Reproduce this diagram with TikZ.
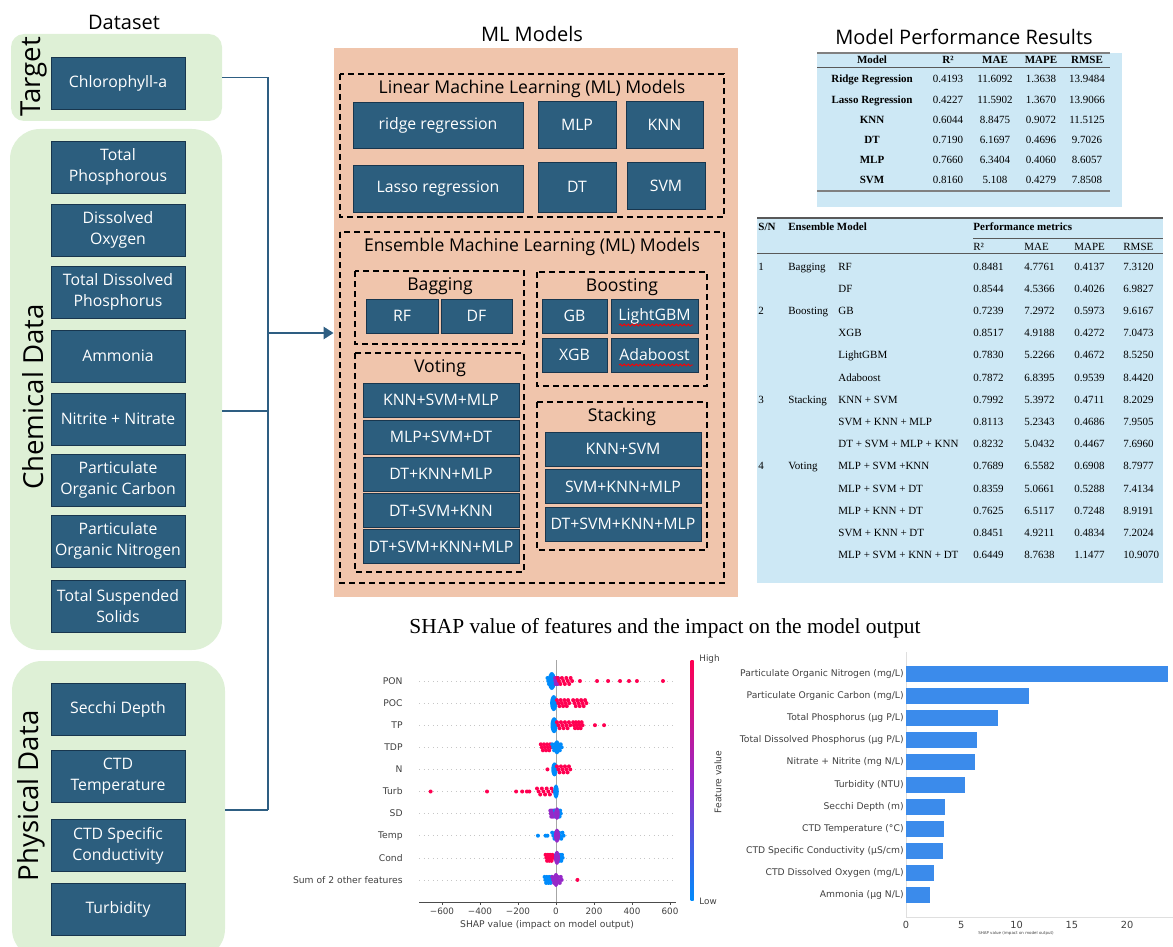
\documentclass[tikz,border=0pt]{standalone}
\usepackage{fontspec}
\setmainfont{Open Sans}
\newfontfamily\tabfont{Liberation Serif}
\newfontfamily\plotfont{DejaVu Sans}
\usetikzlibrary{arrows.meta,positioning,decorations.pathmorphing}

\definecolor{boxblue}{RGB}{44,94,126}
\definecolor{boxedge}{RGB}{24,54,78}
\definecolor{panelgreen}{RGB}{222,240,214}
\definecolor{panelpeach}{RGB}{240,197,172}
\definecolor{tablebg}{RGB}{205,232,245}
\definecolor{linkblue}{RGB}{46,94,130}
\definecolor{shapred}{RGB}{255,0,81}
\definecolor{shapblue}{RGB}{0,139,251}
\definecolor{shappurple}{RGB}{150,40,200}
\definecolor{barblue}{RGB}{59,139,235}

% dots of the beeswarm: row y (px), SHAP value(s), colour
\newcommand{\shapdot}[3]{\fill[#3] ({556+0.19*(#2)},#1) circle (1pt);}
\newcommand{\shapseg}[4]{%
  \foreach \k in {0,...,10}{%
    \fill[#4] ({556+0.19*((#2)+((#3)-(#2))*\k/10)},{#1+3*mod(\k,3)-3}) circle (1pt);}}
\newcommand{\shapblob}[5]{\fill[#5] ({556+0.19*(#2)},#1) ellipse (#3 and #4);}

\begin{document}
\begin{tikzpicture}[
  x=0.5pt, y=-0.5pt,
  panel/.style={fill=panelgreen, inner sep=0pt},
  feat/.style={draw=boxedge, fill=boxblue, text=white, align=center, inner sep=1pt,
    font=\fontsize{7.9pt}{10.5pt}\selectfont, minimum width=67pt, minimum height=26pt},
  mlbox/.style={feat, minimum height=17pt},
  grp/.style={draw, dash pattern=on 3pt off 2pt, line width=0.7pt},
  heading/.style={font=\fontsize{10pt}{12pt}\selectfont},
  subhead/.style={font=\fontsize{8.8pt}{10pt}\selectfont},
  side/.style={rotate=90, font=\fontsize{13.8pt}{16pt}\selectfont},
  trunk/.style={draw=linkblue, line width=1.4pt},
  branch/.style={draw=linkblue, line width=0.6pt},
  arrowlink/.style={trunk, -{Triangle[length=5pt, width=6pt]}},
  squiggle/.style={draw=red, line width=0.4pt, decorate,
    decoration={snake, amplitude=0.5pt, segment length=2pt}},
  tabtxt/.style={font=\tabfont\fontsize{5.5pt}{6.5pt}\selectfont, inner sep=0pt,
    text height=4pt, text depth=1pt},
  tabbold/.style={tabtxt, font=\tabfont\bfseries\fontsize{5.5pt}{6.5pt}\selectfont},
  plotlab/.style={font=\plotfont\fontsize{4.6pt}{5.5pt}\selectfont, text=black!75, inner sep=0pt},
  plottick/.style={font=\plotfont\fontsize{4.4pt}{5.5pt}\selectfont, text=black!75, inner sep=0pt}
]
  \useasboundingbox (0,0) rectangle (1173,947);

  % Dataset
  \node[heading] (datatitle) at (124,22) {Dataset};
  \node[panel, rounded corners=6.5pt, minimum width=105.5pt, minimum height=43.5pt]
    (targetpanel) at (116.5,77.5) {};
  \node[panel, rounded corners=15pt, minimum width=106pt, minimum height=260.5pt]
    (chempanel) at (116,389.5) {};
  \node[panel, rounded corners=15pt, minimum width=106.5pt, minimum height=149pt]
    (physpanel) at (118.5,810) {};
  \node[side] (targetlab) at (34,77) {Target};
  \node[side] (chemlab) at (33,397) {Chemical Data};
  \node[side] (physlab) at (31,796) {Physical Data};

  \node[feat] (chla) at (118,83)  {Chlorophyll-a};
  \node[feat] (tp)   at (118,167) {Total\\Phosphorous};
  \node[feat] (dox)  at (118,230) {Dissolved\\Oxygen};
  \node[feat] (tdp)  at (118,292) {Total Dissolved\\Phosphorus};
  \node[feat] (nh)   at (118,356) {Ammonia};
  \node[feat] (nox)  at (118,419) {Nitrite + Nitrate};
  \node[feat] (poc)  at (118,480) {Particulate\\Organic Carbon};
  \node[feat] (pon)  at (118,541) {Particulate\\Organic Nitrogen};
  \node[feat] (tss)  at (118,606) {Total Suspended\\Solids};
  \node[feat] (sd)   at (118,709) {Secchi Depth};
  \node[feat] (ctdt) at (118,776.5) {CTD\\Temperature};
  \node[feat] (ctdc) at (118,845.5) {CTD Specific\\Conductivity};
  \node[feat] (turb) at (118,909.5) {Turbidity};

  % ML models
  \node[heading] (mltitle) at (532,34) {ML Models};
  \node[fill=panelpeach, inner sep=0pt, minimum width=202pt, minimum height=274.5pt]
    (mlpanel) at (536,322.5) {};

  \coordinate (jtop) at (268,77.5);
  \coordinate (jmid) at (268,411);
  \coordinate (jarrow) at (268,333);
  \coordinate (jbot) at (268,810);
  \draw[branch] (targetpanel.east) -- (jtop);
  \draw[branch] (jmid -| chempanel.east) -- (jmid);
  \draw[branch] (physpanel.east) -- (jbot);
  \draw[trunk] (jtop) -- (jbot);
  \draw[arrowlink] (jarrow) -- (jarrow -| mlpanel.west);

  \draw[grp] (340,74) rectangle (724,217);
  \node[subhead] (lintitle) at (532,89) {Linear Machine Learning (ML) Models};
  \node[mlbox, minimum width=85pt, minimum height=23pt] (ridge) at (438,125) {ridge regression};
  \node[mlbox, minimum width=39pt, minimum height=23.5pt] (mlp) at (577,124.5) {MLP};
  \node[mlbox, minimum width=38.5pt, minimum height=23.5pt] (knn) at (664.5,124.5) {KNN};
  \node[mlbox, minimum width=85pt, minimum height=23.5pt] (lasso) at (438,188.5) {Lasso regression};
  \node[mlbox, minimum width=39pt, minimum height=25pt] (dt) at (577,187) {DT};
  \node[mlbox, minimum width=39pt, minimum height=23.5pt] (svm) at (666,185.5) {SVM};

  \draw[grp] (340,232) rectangle (724,583);
  \node[subhead] (enstitle) at (532,247) {Ensemble Machine Learning (ML) Models};

  \draw[grp] (355,271) rectangle (524,344);
  \node[subhead] (bagtitle) at (440,286) {Bagging};
  \node[mlbox, minimum width=36pt] (rf) at (402,316) {RF};
  \node[mlbox, minimum width=35.5pt] (df) at (476.5,316) {DF};

  \draw[grp] (537,272) rectangle (707,386);
  \node[subhead] (boosttitle) at (622,287) {Boosting};
  \node[mlbox, minimum width=32.5pt] (gb) at (574.5,316) {GB};
  \node[mlbox, minimum width=43.5pt] (lgbm) at (654.5,316) {LightGBM};
  \node[mlbox, minimum width=32.5pt] (xgb) at (574.5,355) {XGB};
  \node[mlbox, minimum width=43.5pt] (ada) at (654.5,355) {Adaboost};
  \draw[squiggle] (619,325) -- (693,325);
  \draw[squiggle] (619,365) -- (693,365);

  \draw[grp] (355,353) rectangle (524,572);
  \node[subhead] (votetitle) at (440,368) {Voting};
  \node[mlbox, minimum width=78pt] (vote1) at (441,400) {KNN+SVM+MLP};
  \node[mlbox, minimum width=78pt] (vote2) at (441,437) {MLP+SVM+DT};
  \node[mlbox, minimum width=78pt] (vote3) at (441,474) {DT+KNN+MLP};
  \node[mlbox, minimum width=78pt] (vote4) at (441,510.5) {DT+SVM+KNN};
  \node[mlbox, minimum width=78pt] (vote5) at (441,546.5) {DT+SVM+KNN+MLP};

  \draw[grp] (537,402) rectangle (707,550);
  \node[subhead] (stacktitle) at (622,417) {Stacking};
  \node[mlbox, minimum width=78pt] (stack1) at (623,449) {KNN+SVM};
  \node[mlbox, minimum width=78pt] (stack2) at (623,486.5) {SVM+KNN+MLP};
  \node[mlbox, minimum width=78pt] (stack3) at (623,524) {DT+SVM+KNN+MLP};

  % Model Performance Results
  \node[heading] (restitle) at (964,37) {Model Performance Results};
  \fill[tablebg] (817,53) rectangle (1122,207);
  \draw[gray, line width=0.8pt] (817,53) -- (1110,53);
  \draw[gray!70!black, line width=0.5pt] (817,68) -- (1110,68);
  \draw[gray, line width=0.8pt] (817,191) -- (1110,191);
  \node[tabbold] (h1m) at (872,61) {Model};
  \node[tabbold] (h1r) at (948,61) {R²};
  \node[tabbold] (h1a) at (995,61) {MAE};
  \node[tabbold] (h1p) at (1041,61) {MAPE};
  \node[tabbold] (h1s) at (1087,61) {RMSE};
  \foreach \mdl/\rr/\mae/\mape/\rmse [count=\i] in
    {Ridge Regression/0.4193/11.6092/1.3638/13.9484,
     Lasso Regression/0.4227/11.5902/1.3670/13.9066,
     KNN/0.6044/8.8475/0.9072/11.5125,
     DT/0.7190/6.1697/0.4696/9.7026,
     MLP/0.7660/6.3404/0.4060/8.6057,
     SVM/0.8160/5.108/0.4279/7.8508}{
    \pgfmathsetmacro\yy{80+20.2*(\i-1)}
    \node[tabbold] (m\i) at (872,\yy) {\mdl};
    \node[tabtxt] (r\i) at (948,\yy) {\rr};
    \node[tabtxt] (a\i) at (995,\yy) {\mae};
    \node[tabtxt] (p\i) at (1041,\yy) {\mape};
    \node[tabtxt] (s\i) at (1087,\yy) {\rmse};
  }

  % Ensemble table
  \fill[tablebg] (757,218) rectangle (1163,583);
  \draw[gray!70!black, line width=0.6pt] (757,218) -- (1163,218);
  \draw[gray!70!black, line width=0.4pt] (973,238) -- (1163,238);
  \draw[gray!70!black, line width=0.5pt] (757,253) -- (1163,253);
  \node[tabbold, anchor=west] (h2sn) at (758,227) {S/N};
  \node[tabbold, anchor=west] (h2em) at (788,227) {Ensemble Model};
  \node[tabbold, anchor=west] (h2pm) at (973,227) {Performance metrics};
  \node[tabtxt, anchor=west] (h2r) at (973,247) {R²};
  \node[tabtxt, anchor=west] (h2a) at (1024,247) {MAE};
  \node[tabtxt, anchor=west] (h2p) at (1074,247) {MAPE};
  \node[tabtxt, anchor=west] (h2s) at (1123,247) {RMSE};
  \foreach \sn/\grpname/\mdl/\rr/\mae/\mape/\rmse [count=\i] in
    {1/Bagging/RF/0.8481/4.7761/0.4137/7.3120,
     {}/{}/DF/0.8544/4.5366/0.4026/6.9827,
     2/Boosting/GB/0.7239/7.2972/0.5973/9.6167,
     {}/{}/XGB/0.8517/4.9188/0.4272/7.0473,
     {}/{}/LightGBM/0.7830/5.2266/0.4672/8.5250,
     {}/{}/Adaboost/0.7872/6.8395/0.9539/8.4420,
     3/Stacking/KNN + SVM/0.7992/5.3972/0.4711/8.2029,
     {}/{}/SVM + KNN + MLP/0.8113/5.2343/0.4686/7.9505,
     {}/{}/DT + SVM + MLP + KNN/0.8232/5.0432/0.4467/7.6960,
     4/Voting/MLP + SVM +KNN/0.7689/6.5582/0.6908/8.7977,
     {}/{}/MLP + SVM + DT/0.8359/5.0661/0.5288/7.4134,
     {}/{}/MLP + KNN + DT/0.7625/6.5117/0.7248/8.9191,
     {}/{}/SVM + KNN + DT/0.8451/4.9211/0.4834/7.2024,
     {}/{}/MLP + SVM + KNN + DT/0.6449/8.7638/1.1477/10.9070}{
    \pgfmathsetmacro\yy{267+22.2*(\i-1)}
    \node[tabtxt, anchor=west] (en\i) at (758,\yy) {\sn};
    \node[tabtxt, anchor=west] (eg\i) at (788,\yy) {\grpname};
    \node[tabtxt, anchor=west] (em\i) at (838,\yy) {\mdl};
    \node[tabtxt, anchor=west] (er\i) at (973,\yy) {\rr};
    \node[tabtxt, anchor=west] (ea\i) at (1024,\yy) {\mae};
    \node[tabtxt, anchor=west] (ep\i) at (1074,\yy) {\mape};
    \node[tabtxt, anchor=west] (es\i) at (1123,\yy) {\rmse};
  }

  % SHAP
  \node[font=\tabfont\fontsize{10.7pt}{12pt}\selectfont] (shaptitle) at (665,628)
    {SHAP value of features and the impact on the model output};

  % beeswarm
  \draw[gray!70, line width=0.5pt] (556,660) -- (556,902);
  \foreach \lab [count=\i] in {PON,POC,TP,TDP,N,Turb,SD,Temp,Cond,Sum of 2 other features}{
    \pgfmathsetmacro\yy{681+22.1*(\i-1)}
    \draw[gray!45, dotted, line width=0.3pt] (419,\yy) -- (676,\yy);
    \node[plotlab, anchor=east] (sl\i) at (403,\yy) {\lab};
  }
  \shapseg{681}{-45}{-5}{shapblue}
  \shapblob{681}{-22}{2pt}{4.5pt}{shapblue}
  \shapseg{681}{-5}{12}{shappurple}
  \shapseg{681}{8}{85}{shapred}
  \foreach \v in {126,216,274,337,384,426,563}{\shapdot{681}{\v}{shapred}}
  \shapblob{703.1}{-12}{1.8pt}{4pt}{shapblue}
  \shapseg{703.1}{5}{70}{shapred}
  \shapseg{703.1}{90}{160}{shapred}
  \shapblob{725.2}{-10}{1.8pt}{4pt}{shapblue}
  \shapseg{725.2}{5}{75}{shapred}
  \shapseg{725.2}{90}{140}{shapred}
  \foreach \v in {205,253}{\shapdot{725.2}{\v}{shapred}}
  \shapseg{747.3}{-80}{-25}{shapred}
  \shapseg{747.3}{-20}{30}{shapblue}
  \shapblob{747.3}{5}{1.6pt}{3.5pt}{shapblue}
  \shapdot{769.4}{-45}{shapred}
  \shapblob{769.4}{-8}{1.6pt}{3.5pt}{shapblue}
  \shapseg{769.4}{5}{75}{shapred}
  \foreach \v in {-660,-363,-210,-178,-153,-140}{\shapdot{791.5}{\v}{shapred}}
  \shapseg{791.5}{-100}{-15}{shapred}
  \shapblob{791.5}{0}{1.4pt}{3.5pt}{shapblue}
  \shapseg{813.6}{-30}{-5}{shappurple}
  \shapseg{813.6}{-5}{25}{shapblue}
  \shapblob{813.6}{5}{1.4pt}{3.2pt}{shappurple}
  \foreach \v in {-95,-55,-45}{\shapdot{835.7}{\v}{shapblue}}
  \shapseg{835.7}{-20}{40}{shapblue}
  \shapblob{835.7}{5}{1.5pt}{3.5pt}{shappurple}
  \shapseg{857.8}{-55}{-15}{shapred}
  \shapseg{857.8}{0}{35}{shapblue}
  \shapblob{857.8}{5}{1.5pt}{3.5pt}{shappurple}
  \shapseg{879.9}{-60}{-20}{shapblue}
  \shapseg{879.9}{-20}{30}{shappurple}
  \shapblob{879.9}{0}{1.5pt}{3.5pt}{shappurple}
  \shapdot{879.9}{113}{shapred}

  \draw[black!70, line width=0.4pt] (419,902) -- (676,902);
  \foreach \t/\tl in {-600/−600,-400/−400,-200/−200,0/0,200/200,400/400,600/600}{
    \draw[black!70, line width=0.4pt] ({556+0.19*\t},902) -- ({556+0.19*\t},905);
    \node[plottick] (bt\t) at ({556+0.19*\t},911) {\tl};
  }
  \node[plotlab] (beexlab) at (547,925) {SHAP value (impact on model output)};
  \shade[top color=shapred, bottom color=shapblue, middle color=shappurple]
    (690.5,660) rectangle (693.5,900);
  \node[plottick, anchor=west] (cbhigh) at (699,659) {High};
  \node[plottick, anchor=west] (cblow) at (699,901) {Low};
  \node[plotlab, rotate=90] (cblab) at (718,782) {Feature value};

  % bar chart
  \draw[gray!25, line width=0.5pt] (906,652) -- (906,917) -- (1173,917);
  \foreach \lab/\val [count=\i] in
    {{Particulate Organic Nitrogen (mg/L)}/23.7,
     {Particulate Organic Carbon (mg/L)}/11.1,
     {Total Phosphorus (µg P/L)}/8.3,
     {Total Dissolved Phosphorus (µg P/L)}/6.4,
     {Nitrate + Nitrite (mg N/L)}/6.2,
     {Turbidity (NTU)}/5.3,
     {Secchi Depth (m)}/3.5,
     {CTD Temperature (°C)}/3.4,
     {CTD Specific Conductivity (µS/cm)}/3.35,
     {CTD Dissolved Oxygen (mg/L)}/2.5,
     {Ammonia (µg N/L)}/2.15}{
    \pgfmathsetmacro\yy{674+22.1*(\i-1)}
    \node[plotlab, anchor=east] (bl\i) at (904,\yy) {\lab};
    \fill[barblue] (906,\yy-8) rectangle ({906+11.05*\val},\yy+8);
  }
  \foreach \t in {0,5,10,15,20}{
    \node[plottick, font=\plotfont\fontsize{4.9pt}{6pt}\selectfont] (xt\t) at ({906+11.05*\t},925) {\t};
  }
  \node[plottick, font=\plotfont\fontsize{2pt}{2.5pt}\selectfont] (barxlab) at (1016,933)
    {SHAP value (impact on model output)};
\end{tikzpicture}
\end{document}
